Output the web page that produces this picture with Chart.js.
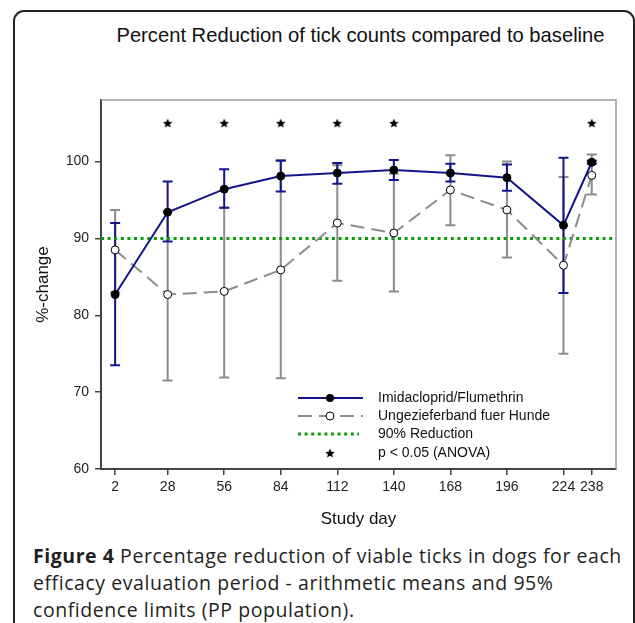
<!DOCTYPE html>
<html>
<head>
<meta charset="utf-8">
<script src="https://cdn.jsdelivr.net/npm/chart.js@4.4.1/dist/chart.umd.min.js"></script>
<style>
body { margin:0; background:#fff; width:635px; height:623px; overflow:hidden; position:relative; font-family:"Liberation Sans", Arial, sans-serif; }
#frame { position:absolute; left:13px; top:10px; width:618px; height:700px; border:2px solid #222; border-radius:11px; }
#title { position:absolute; left:103px; top:24px; width:515px; text-align:center; font-size:20.2px; color:#111; white-space:nowrap; }
#wrap { position:absolute; left:0; top:0; width:635px; height:540px; }
#caption { position:absolute; left:33px; top:542px; width:600px; font-family:"Open Sans", sans-serif; font-size:19.5px; letter-spacing:0.55px; line-height:27px; color:#231f20; white-space:nowrap; }
#caption b { font-weight:700; }
</style>
</head>
<body>
<div id="frame"></div>
<div id="title">Percent Reduction of tick counts compared to baseline</div>
<div id="wrap"><canvas id="myChart"></canvas></div>
<div id="caption"><b>Figure 4</b> Percentage reduction of viable ticks in dogs for each<br>efficacy evaluation period - arithmetic means and 95%<br>confidence limits (PP population).</div>
<script>
// study days and values
const days = [2, 28, 56, 84, 112, 140, 168, 196, 224, 238];
const imidMean = [82.7, 93.4, 96.4, 98.1, 98.5, 98.9, 98.5, 97.9, 91.7, 99.9];
const imidLow  = [73.5, 89.6, 94.0, 96.1, 97.1, 97.6, 97.4, 96.2, 82.9, 99.7];
const imidHigh = [92.0, 97.4, 99.0, 100.1, 99.8, 100.2, 99.7, 99.6, 100.5, 100.1];
const collarMean = [88.5, 82.7, 83.1, 85.9, 92.0, 90.7, 96.3, 93.7, 86.5, 98.2];
const collarLow  = [83.0, 71.5, 71.9, 71.8, 84.5, 83.1, 91.7, 87.5, 75.0, 95.7];
const collarHigh = [93.7, 93.5, 94.0, 100.2, 99.5, 98.4, 100.8, 100.0, 98.0, 100.9];
const starDays = [28, 56, 84, 112, 140, 238];
const starLevel = 105;
const threshold = 90;
const yTicks = [60, 70, 80, 90, 100];
const legendLabels = ["Imidacloprid/Flumethrin", "Ungezieferband fuer Hunde", "90% Reduction", "p < 0.05 (ANOVA)"];

const BLUE = '#14148a', GRAY = '#8c8c8c', GREEN = '#0a9a0a';

// small filled star used as point style
function makeStar(size) {
  let c = document.createElement('canvas');
  c.width = size; c.height = size;
  let g = c.getContext('2d');
  let r = size / 2, ri = r * 0.45;
  g.beginPath();
  for (let i = 0; i < 10; i++) {
    let rad = (i % 2 == 0) ? r : ri;
    let a = -Math.PI / 2 + i * Math.PI / 5;
    g.lineTo(r + rad * Math.cos(a), r + 0.5 + rad * Math.sin(a));
  }
  g.closePath();
  g.fillStyle = '#000';
  g.fill();
  return c;
}
const star = makeStar(10);

function pts(ys) {
  return days.map((d, i) => ({x: d, y: ys[i]}));
}

function drawBars(chart, lo, hi, color) {
  const {ctx, scales: {x, y}} = chart;
  ctx.save();
  ctx.strokeStyle = color;
  ctx.lineWidth = 2;
  for (let i = 0; i < days.length; i++) {
    let px = x.getPixelForValue(days[i]);
    let y1 = y.getPixelForValue(lo[i]);
    let y2 = y.getPixelForValue(hi[i]);
    ctx.beginPath();
    ctx.moveTo(px, y1); ctx.lineTo(px, y2);
    ctx.moveTo(px - 5, y1); ctx.lineTo(px + 5, y1);
    ctx.moveTo(px - 5, y2); ctx.lineTo(px + 5, y2);
    ctx.stroke();
  }
  ctx.restore();
}

const extras = {
  id: 'extras',
  beforeDatasetsDraw(chart) {
    const {ctx, chartArea: a} = chart;
    ctx.save();
    ctx.strokeStyle = '#9a9a9a';
    ctx.lineWidth = 1.5;
    ctx.beginPath();
    ctx.moveTo(a.left, a.top); ctx.lineTo(a.right, a.top); ctx.lineTo(a.right, a.bottom);
    ctx.stroke();
    ctx.restore();
    drawBars(chart, collarLow, collarHigh, GRAY);
    drawBars(chart, imidLow, imidHigh, BLUE);
  },
  afterDraw(chart) {
    const ctx = chart.ctx;
    const x0 = 298, x1 = 363, xm = 330, tx = 378;
    const rows = [398, 416, 434, 453];
    ctx.save();
    // row 1
    ctx.strokeStyle = BLUE; ctx.lineWidth = 2;
    ctx.beginPath(); ctx.moveTo(x0, rows[0]); ctx.lineTo(x1, rows[0]); ctx.stroke();
    ctx.fillStyle = '#000';
    ctx.beginPath(); ctx.arc(xm, rows[0], 4, 0, Math.PI * 2); ctx.fill();
    // row 2
    ctx.strokeStyle = GRAY; ctx.setLineDash([14, 7]);
    ctx.beginPath(); ctx.moveTo(x0, rows[1]); ctx.lineTo(x1, rows[1]); ctx.stroke();
    ctx.setLineDash([]);
    ctx.fillStyle = '#fff'; ctx.strokeStyle = '#000'; ctx.lineWidth = 1;
    ctx.beginPath(); ctx.arc(xm, rows[1], 4, 0, Math.PI * 2); ctx.fill(); ctx.stroke();
    // row 3
    ctx.strokeStyle = GREEN; ctx.lineWidth = 3; ctx.setLineDash([3, 3.6]);
    ctx.beginPath(); ctx.moveTo(x0, rows[2]); ctx.lineTo(x1 - 4, rows[2]); ctx.stroke();
    ctx.setLineDash([]);
    // row 4
    ctx.drawImage(star, xm - 5, rows[3] - 5);
    ctx.fillStyle = '#111';
    ctx.font = '14px "Liberation Sans", Arial';
    ctx.textBaseline = 'middle';
    for (let i = 0; i < 4; i++) ctx.fillText(legendLabels[i], tx, rows[i]);
    ctx.restore();
  }
};

let myChart = document.getElementById("myChart").getContext("2d");
var chart = new Chart(myChart, {
  type: 'scatter',
  plugins: [extras],
  data: {
    datasets: [
      {
        label: 'stars',
        data: starDays.map(d => ({x: d, y: starLevel})),
        pointStyle: star,
        order: 0
      },
      {
        label: legendLabels[0],
        data: pts(imidMean),
        showLine: true,
        borderColor: BLUE,
        borderWidth: 2,
        pointRadius: 4,
        pointBackgroundColor: '#000',
        pointBorderColor: '#000',
        pointBorderWidth: 1,
        order: 1
      },
      {
        label: legendLabels[1],
        data: pts(collarMean),
        showLine: true,
        borderColor: GRAY,
        borderWidth: 2,
        borderDash: [14, 7],
        pointRadius: 4,
        pointBackgroundColor: '#fff',
        pointBorderColor: '#000',
        pointBorderWidth: 1,
        order: 2
      },
      {
        label: legendLabels[2],
        data: [{x: -5, y: threshold}, {x: 250, y: threshold}],
        showLine: true,
        borderColor: GREEN,
        borderWidth: 3,
        borderDash: [3, 3.6],
        pointRadius: 0,
        order: 3
      }
    ]
  },
  options: {
    responsive: true,
    maintainAspectRatio: false,
    animation: false,
    events: [],
    layout: { padding: { top: 100, right: 19, left: 0, bottom: 0 } },
    plugins: { legend: { display: false }, tooltip: { enabled: false } },
    scales: {
      x: {
        type: 'linear', min: -5, max: 250,
        afterBuildTicks: s => { s.ticks = days.map(v => ({value: v})); },
        afterFit: s => { s.height = 71; },
        border: { color: '#444', width: 2 },
        grid: { drawOnChartArea: false, drawTicks: true, tickLength: 6, color: '#444', lineWidth: 1.5 },
        ticks: { font: { size: 14, family: '"Liberation Sans", Arial' }, color: '#222', padding: 4, maxRotation: 0, autoSkip: false },
        title: { display: true, text: 'Study day', font: { size: 17, family: '"Liberation Sans", Arial' }, color: '#111', padding: { bottom: 10, top: 0 } }
      },
      y: {
        min: 60, max: 108,
        afterBuildTicks: s => { s.ticks = yTicks.map(v => ({value: v})); },
        afterFit: s => { s.width = 101; },
        border: { color: '#444', width: 2 },
        grid: { drawOnChartArea: false, drawTicks: true, tickLength: 6, color: '#444', lineWidth: 1.5 },
        ticks: { font: { size: 14, family: '"Liberation Sans", Arial' }, color: '#222', padding: 6 },
        title: { display: true, text: '%-change', font: { size: 17, family: '"Liberation Sans", Arial' }, color: '#111', padding: { top: 33, bottom: 0 } }
      }
    }
  }
});
</script>
</body>
</html>
